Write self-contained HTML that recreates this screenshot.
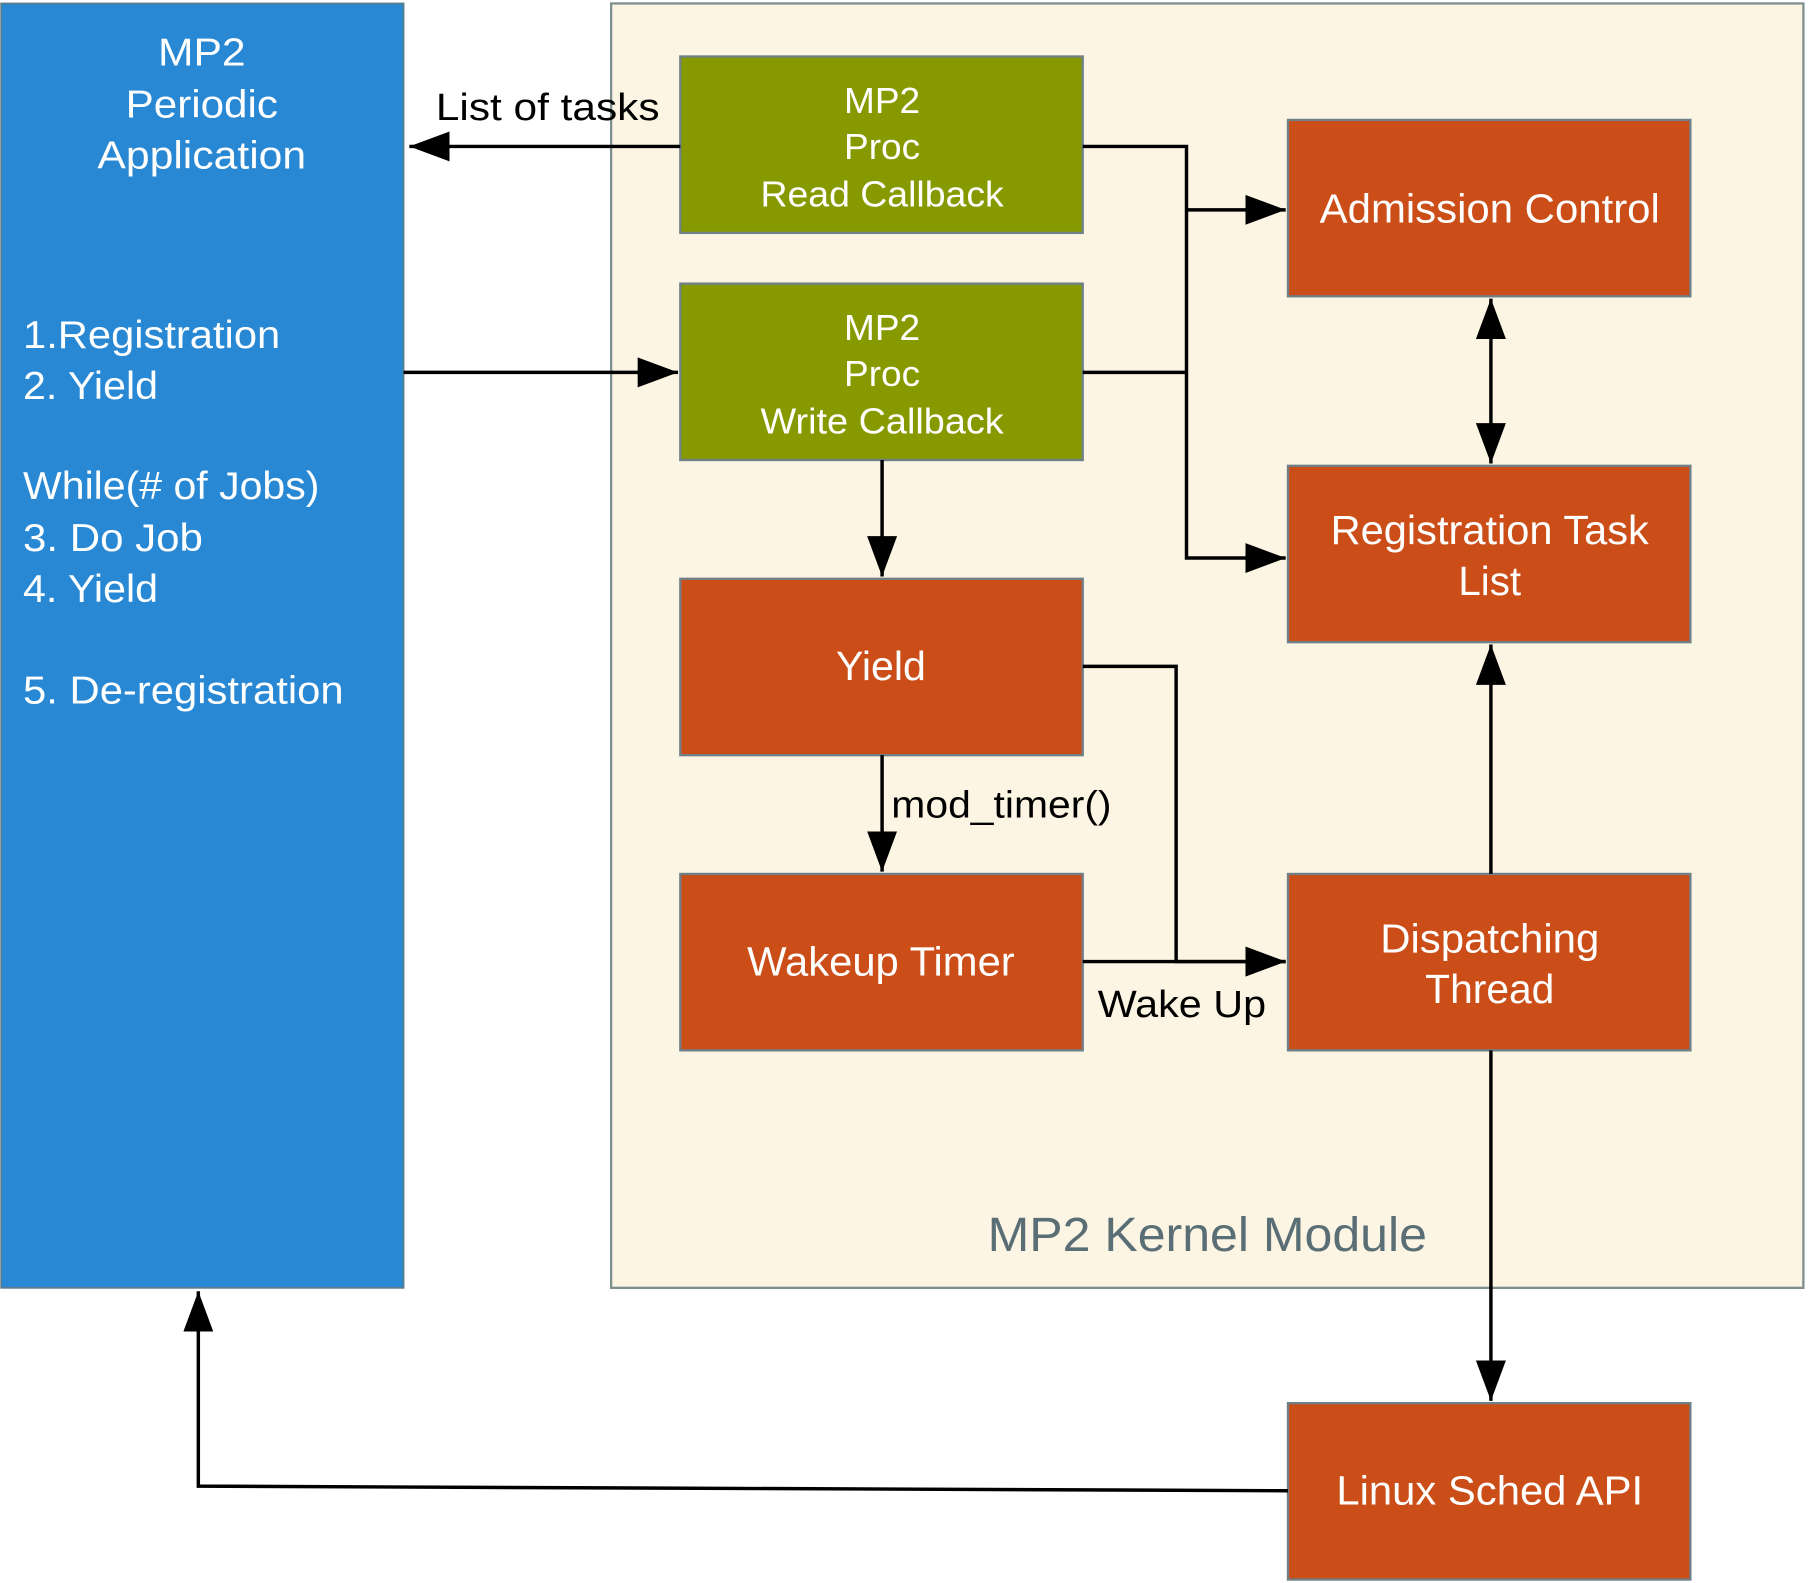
<!DOCTYPE html>
<html><head><meta charset="utf-8"><style>
html,body{margin:0;padding:0;background:#fff;}
svg{display:block;}
text{font-family:"Liberation Sans",Arial,sans-serif;}
</style></head><body>
<svg width="1808" height="1583" viewBox="0 0 1568 1373" preserveAspectRatio="none" xmlns="http://www.w3.org/2000/svg">
<defs>
<marker id="a" markerWidth="35" markerHeight="26" refX="35" refY="13" orient="auto" markerUnits="userSpaceOnUse">
<path d="M0,0 L35,13 L0,26 Z" fill="#000"/>
</marker>
</defs>
<rect width="1568" height="1373" fill="#fff"/>
<rect x="1" y="3" width="349" height="1114" fill="#2888d4" stroke="#5b7b8a" stroke-width="1.5"/>
<rect x="530" y="3" width="1034" height="1114" fill="#fdf5e3" stroke="#7f8f8f" stroke-width="2"/>
<g stroke="#6f8088" stroke-width="2">
<rect x="590" y="49" width="349" height="153" fill="#869a00"/>
<rect x="590" y="246" width="349" height="153" fill="#869a00"/>
<rect x="1117" y="104" width="349" height="153" fill="#cb4d17"/>
<rect x="1117" y="404" width="349" height="153" fill="#cb4d17"/>
<rect x="590" y="502" width="349" height="153" fill="#cb4d17"/>
<rect x="590" y="758" width="349" height="153" fill="#cb4d17"/>
<rect x="1117" y="758" width="349" height="153" fill="#cb4d17"/>
<rect x="1117" y="1217" width="349" height="153" fill="#cb4d17"/>
</g>
<g fill="#fff" font-size="34" text-anchor="middle" lengthAdjust="spacingAndGlyphs">
<text x="175" y="57" textLength="76" lengthAdjust="spacingAndGlyphs">MP2</text>
<text x="175" y="102" textLength="132" lengthAdjust="spacingAndGlyphs">Periodic</text>
<text x="175" y="146" textLength="181" lengthAdjust="spacingAndGlyphs">Application</text>
</g>
<g fill="#fff" font-size="34">
<text x="20" y="302" textLength="223" lengthAdjust="spacingAndGlyphs">1.Registration</text>
<text x="20" y="346" textLength="117" lengthAdjust="spacingAndGlyphs">2. Yield</text>
<text x="20" y="433" textLength="257" lengthAdjust="spacingAndGlyphs">While(# of Jobs)</text>
<text x="20" y="478" textLength="156" lengthAdjust="spacingAndGlyphs">3. Do Job</text>
<text x="20" y="522" textLength="117" lengthAdjust="spacingAndGlyphs">4. Yield</text>
<text x="20" y="610" textLength="278" lengthAdjust="spacingAndGlyphs">5. De-registration</text>
</g>
<g fill="#fff" font-size="31" text-anchor="middle">
<text x="765" y="98" textLength="66" lengthAdjust="spacingAndGlyphs">MP2</text>
<text x="765" y="138" textLength="66" lengthAdjust="spacingAndGlyphs">Proc</text>
<text x="765" y="179" textLength="211" lengthAdjust="spacingAndGlyphs">Read Callback</text>
<text x="765" y="295" textLength="66" lengthAdjust="spacingAndGlyphs">MP2</text>
<text x="765" y="335" textLength="66" lengthAdjust="spacingAndGlyphs">Proc</text>
<text x="765" y="376" textLength="211" lengthAdjust="spacingAndGlyphs">Write Callback</text>
</g>
<g fill="#fff" font-size="35" text-anchor="middle">
<text x="1292" y="193" textLength="295" lengthAdjust="spacingAndGlyphs">Admission Control</text>
<text x="1292" y="472" textLength="276" lengthAdjust="spacingAndGlyphs">Registration Task</text>
<text x="1292" y="516">List</text>
<text x="764" y="590" textLength="78" lengthAdjust="spacingAndGlyphs">Yield</text>
<text x="764" y="846" textLength="232" lengthAdjust="spacingAndGlyphs">Wakeup Timer</text>
<text x="1292" y="826" textLength="190" lengthAdjust="spacingAndGlyphs">Dispatching</text>
<text x="1292" y="870" textLength="112" lengthAdjust="spacingAndGlyphs">Thread</text>
<text x="1292" y="1305" textLength="266" lengthAdjust="spacingAndGlyphs">Linux Sched API</text>
</g>
<text x="1047" y="1085" font-size="42" fill="#5a6e75" text-anchor="middle" textLength="381" lengthAdjust="spacingAndGlyphs">MP2 Kernel Module</text>
<g fill="#000" font-size="33">
<text x="475" y="104" text-anchor="middle" textLength="194" lengthAdjust="spacingAndGlyphs">List of tasks</text>
<text x="773" y="709" textLength="191" lengthAdjust="spacingAndGlyphs">mod_timer()</text>
<text x="1025" y="882" text-anchor="middle" textLength="146" lengthAdjust="spacingAndGlyphs">Wake Up</text>
</g>
<g stroke="#000" stroke-width="3" fill="none">
<path d="M590,127 L355,127" marker-end="url(#a)"/>
<path d="M350,323 L588,323" marker-end="url(#a)"/>
<path d="M939,127 L1029,127 L1029,484 L1115,484" marker-end="url(#a)"/>
<path d="M1029,182 L1115,182" marker-end="url(#a)"/>
<path d="M939,323 L1029,323"/>
<path d="M765,399 L765,500" marker-end="url(#a)"/>
<path d="M1293,330 L1293,259" marker-end="url(#a)"/>
<path d="M1293,330 L1293,402" marker-end="url(#a)"/>
<path d="M939,578 L1020,578 L1020,834 L1115,834" marker-end="url(#a)"/>
<path d="M765,655 L765,756" marker-end="url(#a)"/>
<path d="M939,834 L1115,834" marker-end="url(#a)"/>
<path d="M1293,758 L1293,559" marker-end="url(#a)"/>
<path d="M1293,911 L1293,1215" marker-end="url(#a)"/>
<path d="M1117,1293 L172,1289 L172,1120" marker-end="url(#a)"/>
</g>
</svg>
</body></html>
